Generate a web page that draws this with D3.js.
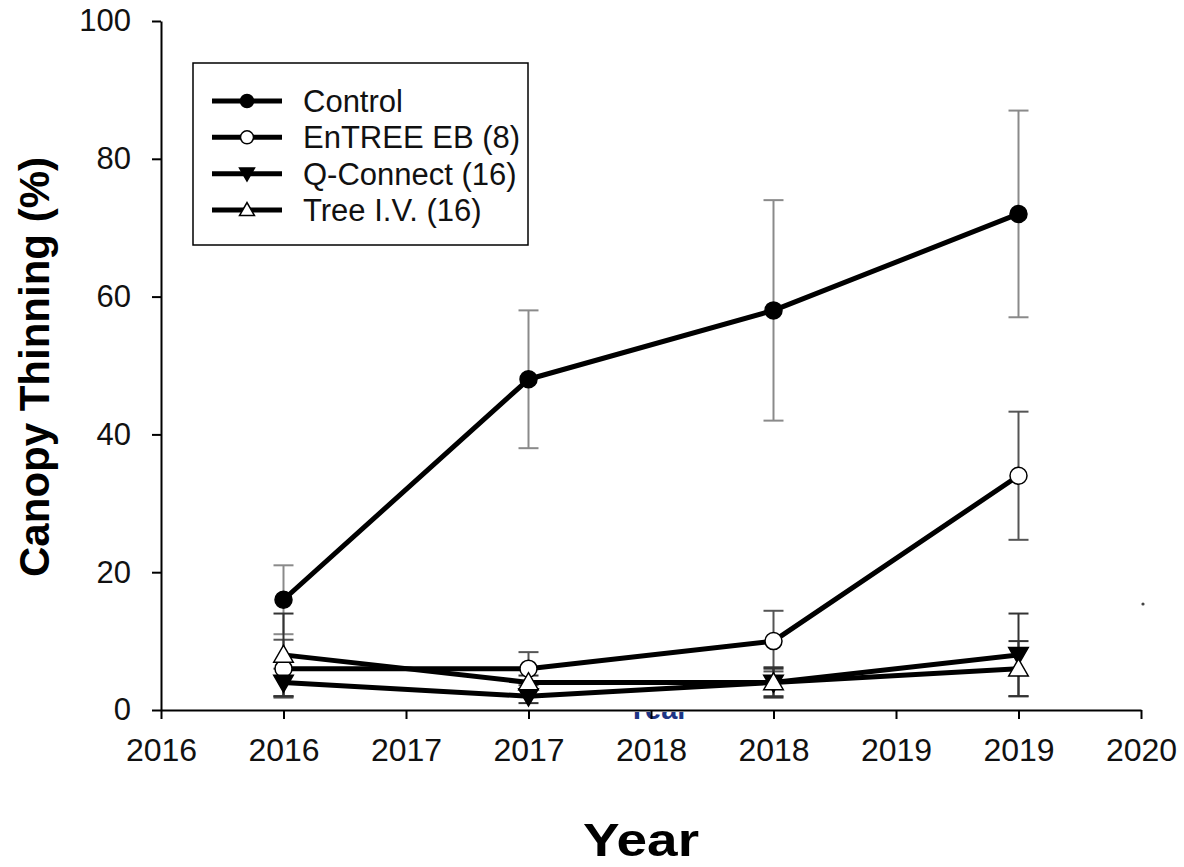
<!DOCTYPE html>
<html>
<head>
<meta charset="utf-8">
<script src="https://cdn.jsdelivr.net/npm/d3@7"></script>
<style>
  html, body { margin: 0; padding: 0; background: #fff; }
  svg { display: block; font-family: "Liberation Sans", Arial, sans-serif; }
</style>
</head>
<body>
<svg id="chart" width="1184" height="867"></svg>
<script>
// Canopy thinning by year for each treatment (mean ± error)
const years = [2016, 2017, 2018, 2019];
const seriesNames = ["Control", "EnTREE EB (8)", "Q-Connect (16)", "Tree I.V. (16)"];
const controlMean = [16, 48, 58, 72];
const controlErr  = [5, 10, 16, 15];
const entreeMean  = [6, 6, 10, 34];
const entreeErr   = [4.2, 2.4, 4.4, 9.3];
const qconnectMean = [4, 2, 4, 8];
const qconnectErr  = [2, 1, 2, 6];
const treeivMean  = [8, 4, 4, 6];
const treeivErr   = [6, 1, 2.2, 4];
const xTickValues = [2015.5, 2016, 2016.5, 2017, 2017.5, 2018, 2018.5, 2019, 2019.5];
const xTickLabels = ["2016", "2016", "2017", "2017", "2018", "2018", "2019", "2019", "2020"];
const yTickValues = [0, 20, 40, 60, 80, 100];

const series = [
  { name: seriesNames[0], mean: controlMean, err: controlErr, marker: "circle", fill: "#000", errColor: "#8a8a8a" },
  { name: seriesNames[1], mean: entreeMean, err: entreeErr, marker: "circle", fill: "#fff", errColor: "#555" },
  { name: seriesNames[2], mean: qconnectMean, err: qconnectErr, marker: "down", fill: "#000", errColor: "#333" },
  { name: seriesNames[3], mean: treeivMean, err: treeivErr, marker: "up", fill: "#fff", errColor: "#333" }
];

const svg = d3.select("#chart");
const x = d3.scaleLinear().domain([2015.5, 2019.5]).range([161, 1141]);
const y = d3.scaleLinear().domain([0, 100]).range([710, 21]);

// marker path generator
function markerPath(type, r) {
  if (type === "circle") return d3.symbol().type(d3.symbolCircle).size(Math.PI * r * r)();
  const h = r * 1.9, w = r * 1.15;
  if (type === "down") return `M${-w},${-h * 0.45}L${w},${-h * 0.45}L0,${h * 0.6}Z`;
  return `M${-w},${h * 0.45}L${w},${h * 0.45}L0,${-h * 0.6}Z`;
}

// ghost axis caption sitting under the plot
svg.append("defs").append("clipPath").attr("id", "below-axis")
  .append("rect").attr("x", 0).attr("y", 712).attr("width", 1184).attr("height", 40);
svg.append("text")
  .attr("clip-path", "url(#below-axis)")
  .attr("x", 658).attr("y", 719)
  .attr("text-anchor", "middle")
  .attr("font-size", 29).attr("font-weight", "bold")
  .attr("fill", "#1d3585")
  .text("Year");

// error bars
const capHalf = 10;
const errG = svg.append("g");
series.forEach(s => {
  const g = errG.append("g").attr("stroke", s.errColor).attr("stroke-width", 2).attr("fill", "none");
  years.forEach((yr, i) => {
    const cx = x(yr);
    const top = y(s.mean[i] + s.err[i]);
    const bot = y(Math.max(0, s.mean[i] - s.err[i]));
    g.append("line").attr("x1", cx).attr("x2", cx).attr("y1", top).attr("y2", bot);
    g.append("line").attr("x1", cx - capHalf).attr("x2", cx + capHalf).attr("y1", top).attr("y2", top);
    g.append("line").attr("x1", cx - capHalf).attr("x2", cx + capHalf).attr("y1", bot).attr("y2", bot);
  });
});

// axes
const xAxis = d3.axisBottom(x)
  .tickValues(xTickValues)
  .tickFormat((d, i) => xTickLabels[i])
  .tickSize(9).tickSizeOuter(0).tickPadding(19);
const gx = svg.append("g").attr("transform", "translate(0,710)").call(xAxis);
gx.select(".domain").attr("stroke", "#000").attr("stroke-width", 2);
gx.selectAll(".tick line").attr("stroke", "#000").attr("stroke-width", 2);
gx.selectAll(".tick text").attr("font-size", 32).attr("fill", "#111")
  .attr("font-family", "Liberation Sans, Arial, sans-serif");

const yAxis = d3.axisLeft(y)
  .tickValues(yTickValues)
  .tickFormat(d3.format("d"))
  .tickSize(9).tickSizeOuter(0).tickPadding(21);
const gy = svg.append("g").attr("transform", "translate(161,0)").call(yAxis);
gy.select(".domain").attr("stroke", "#000").attr("stroke-width", 2);
gy.selectAll(".tick line").attr("stroke", "#000").attr("stroke-width", 2);
gy.selectAll(".tick text").attr("font-size", 31).attr("fill", "#111")
  .attr("font-family", "Liberation Sans, Arial, sans-serif");

// lines
const line = d3.line().x((d, i) => x(years[i])).y(d => y(d));
series.forEach(s => {
  svg.append("path").datum(s.mean)
    .attr("d", line)
    .attr("fill", "none").attr("stroke", "#000").attr("stroke-width", 5)
    .attr("stroke-linejoin", "round");
});

// markers
series.forEach(s => {
  svg.append("g").selectAll("path").data(s.mean).join("path")
    .attr("transform", (d, i) => `translate(${x(years[i])},${y(d)})`)
    .attr("d", markerPath(s.marker, 8.5))
    .attr("fill", s.fill).attr("stroke", "#000").attr("stroke-width", 1.5);
});

// axis titles
svg.append("text")
  .attr("x", 641).attr("y", 856)
  .attr("text-anchor", "middle")
  .attr("font-size", 46).attr("font-weight", "bold").attr("fill", "#000")
  .attr("textLength", 116).attr("lengthAdjust", "spacingAndGlyphs")
  .text("Year");
svg.append("text")
  .attr("transform", "translate(49,367) rotate(-90)")
  .attr("text-anchor", "middle")
  .attr("font-size", 42).attr("font-weight", "bold").attr("fill", "#000")
  .text("Canopy Thinning (%)");

// legend
const legend = svg.append("g");
legend.append("rect")
  .attr("x", 193).attr("y", 63).attr("width", 335).attr("height", 182)
  .attr("fill", "#fff").attr("stroke", "#000").attr("stroke-width", 1.5);
const rowY = d3.scalePoint().domain(seriesNames).range([101, 210]);
series.forEach(s => {
  const ry = rowY(s.name);
  legend.append("line").attr("x1", 212).attr("x2", 282).attr("y1", ry).attr("y2", ry)
    .attr("stroke", "#000").attr("stroke-width", 5);
  legend.append("path").attr("transform", `translate(247,${ry})`)
    .attr("d", markerPath(s.marker, 6.5))
    .attr("fill", s.fill).attr("stroke", "#000").attr("stroke-width", 1.5);
  legend.append("text").attr("x", 303).attr("y", ry + 11)
    .attr("font-size", 31).attr("fill", "#111")
    .text(s.name);
});

// stray speck at the right edge
svg.append("circle").attr("cx", 1143).attr("cy", 604).attr("r", 1.6).attr("fill", "#444");
</script>
</body>
</html>
